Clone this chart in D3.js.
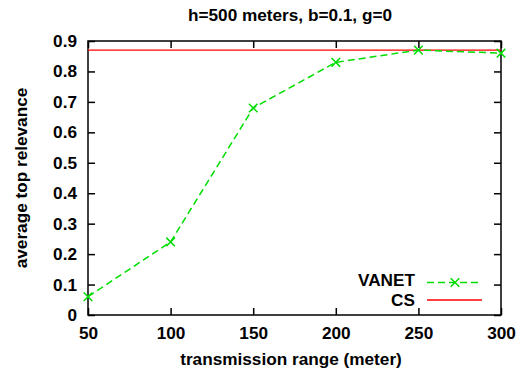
<!DOCTYPE html>
<html>
<head>
<meta charset="utf-8">
<script src="https://cdn.jsdelivr.net/npm/d3@7"></script>
<style>
  body { margin: 0; background: #fff; }
  text { font-family: "Liberation Sans", Arial, sans-serif; font-weight: bold; }
</style>
</head>
<body>
<div id="chart"></div>
<script>
// data
const ranges = [50, 100, 150, 200, 250, 300];
const vanet = [0.06, 0.24, 0.68, 0.83, 0.87, 0.86];
const csValue = 0.87;
const xTicks = [50, 100, 150, 200, 250, 300];
const yTicks = [0, 0.1, 0.2, 0.3, 0.4, 0.5, 0.6, 0.7, 0.8, 0.9];

const W = 525, H = 374;
const margin = { top: 41, right: 24, bottom: 59, left: 88 };
const width = W - margin.left - margin.right;
const height = H - margin.top - margin.bottom;
const fs = 17.2;

const svg = d3.select("#chart").append("svg")
    .attr("width", W)
    .attr("height", H);

const x = d3.scaleLinear().domain([50, 300]).range([0, width]);
const y = d3.scaleLinear().domain([0, 0.9]).range([height, 0]);

const g = svg.append("g")
    .attr("transform", `translate(${margin.left}, ${margin.top})`);

const tickLen = 7;

// axes (ticks inward, mirrored on top/right)
const fmtY = d => d === 0 ? "0" : d3.format(".1f")(d);

const xAxis = g.append("g")
    .attr("transform", `translate(0, ${height})`)
    .call(d3.axisBottom(x).tickValues(xTicks).tickSizeInner(-tickLen).tickSizeOuter(0).tickPadding(12));
const xTop = g.append("g")
    .call(d3.axisTop(x).tickValues(xTicks).tickSizeInner(-tickLen).tickSizeOuter(0).tickFormat(""));
const yAxis = g.append("g")
    .call(d3.axisLeft(y).tickValues(yTicks).tickSizeInner(-tickLen).tickSizeOuter(0).tickPadding(11).tickFormat(fmtY));
const yRight = g.append("g")
    .attr("transform", `translate(${width}, 0)`)
    .call(d3.axisRight(y).tickValues(yTicks).tickSizeInner(-tickLen).tickSizeOuter(0).tickFormat(""));

[xAxis, xTop, yAxis, yRight].forEach(a => {
    a.select(".domain").remove();
    a.selectAll(".tick line").attr("stroke", "#000").attr("stroke-width", 1.5);
    a.selectAll("text").attr("font-size", fs).attr("fill", "#000");
});

// frame
g.append("rect")
    .attr("x", 0).attr("y", 0)
    .attr("width", width).attr("height", height)
    .attr("fill", "none")
    .attr("stroke", "#000")
    .attr("stroke-width", 1.5);

// CS line
g.append("line")
    .attr("x1", x(50)).attr("x2", x(300))
    .attr("y1", y(csValue)).attr("y2", y(csValue))
    .attr("stroke", "#ff0000")
    .attr("stroke-width", 1.3);

// VANET line
const pts = ranges.map((r, i) => [r, vanet[i]]);
const line = d3.line().x(d => x(d[0])).y(d => y(d[1]));
g.append("path")
    .datum(pts)
    .attr("d", line)
    .attr("fill", "none")
    .attr("stroke", "#00dd00")
    .attr("stroke-width", 1.5)
    .attr("stroke-dasharray", "7,4");

const cross = d3.symbol().type(d3.symbolX).size(50);
g.selectAll(".pt")
    .data(pts)
    .enter()
    .append("path")
    .attr("class", "pt")
    .attr("transform", d => `translate(${x(d[0])}, ${y(d[1])})`)
    .attr("d", cross)
    .attr("fill", "none")
    .attr("stroke", "#00dd00")
    .attr("stroke-width", 1.5);

// legend
const leg = svg.append("g");
const legItems = [
    { name: "VANET", color: "#00dd00", dash: "7,4", marker: true, ty: 280, yy: 282.5 },
    { name: "CS", color: "#ff0000", dash: null, marker: false, ty: 300, yy: 300 }
];
legItems.forEach(it => {
    leg.append("text")
        .attr("x", 415).attr("y", it.ty)
        .attr("dy", "0.35em")
        .attr("text-anchor", "end")
        .attr("font-size", fs)
        .text(it.name);
    leg.append("line")
        .attr("x1", 427).attr("x2", 482)
        .attr("y1", it.yy).attr("y2", it.yy)
        .attr("stroke", it.color)
        .attr("stroke-width", 1.5)
        .attr("stroke-dasharray", it.dash);
    if (it.marker) {
        leg.append("path")
            .attr("transform", `translate(455, ${it.yy})`)
            .attr("d", cross)
            .attr("fill", "none")
            .attr("stroke", it.color)
            .attr("stroke-width", 1.5);
    }
});

// title and axis labels
svg.append("text")
    .attr("x", 290).attr("y", 21)
    .attr("text-anchor", "middle")
    .attr("font-size", fs)
    .text("h=500 meters, b=0.1, g=0");

svg.append("text")
    .attr("x", 291).attr("y", 365)
    .attr("text-anchor", "middle")
    .attr("font-size", fs)
    .text("transmission range (meter)");

svg.append("text")
    .attr("transform", "translate(27, 178) rotate(-90)")
    .attr("text-anchor", "middle")
    .attr("font-size", fs)
    .text("average top relevance");
</script>
</body>
</html>
